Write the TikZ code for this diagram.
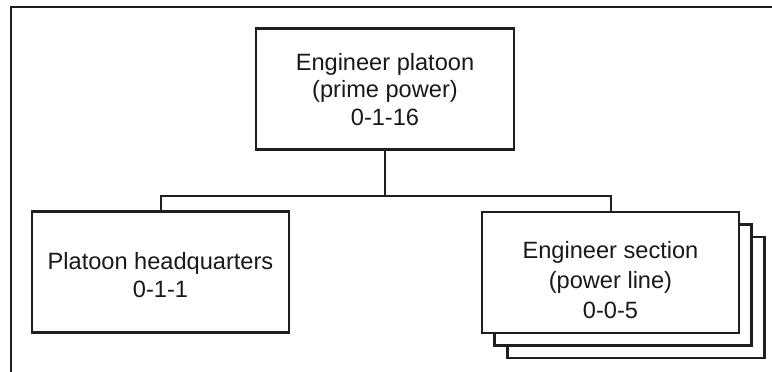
\documentclass[tikz,border=0pt]{standalone}
\usepackage{fontspec}
\setmainfont{Liberation Sans}
\begin{document}
\begin{tikzpicture}[x=1pt,y=-1pt,
  ink/.style={draw=black!88},
  unitbox/.style={ink, line width=2.2pt, fill=white, rectangle, minimum width=257pt, minimum height=121pt, inner sep=0pt},
  boxtext/.style={align=center, inner sep=0pt, text=black!90, font=\fontsize{23.6pt}{27.2pt}\selectfont},
  link/.style={ink, line width=2pt},
  frameline/.style={ink, line width=1.6pt}]
\useasboundingbox (0,0) rectangle (772,372);
\draw[frameline] (10.7,372) -- (10.7,7) -- (772,7);
% top box
\node[unitbox, minimum width=258pt] (top) at (385,89) {};
\node[boxtext] (toptext) at ([yshift=-0.5pt]top.center) {Engineer platoon\\(prime power)\\0-1-16};
% left box
\node[unitbox] (hq) at (160.5,272) {};
\node[boxtext] (hqtext) at ([yshift=-3pt]hq.center) {Platoon headquarters\\0-1-1};
% stacked boxes
\node[unitbox] (sec3) at (636,297.5) {};
\node[unitbox] (sec2) at (623,285) {};
\node[unitbox] (sec) at (610.5,272.5) {};
\node[boxtext, font=\fontsize{23.6pt}{30pt}\selectfont] (sectext) at ([yshift=-7.5pt]sec.center) {Engineer section\\(power line)\\0-0-5};
% connectors
\coordinate (j) at (385,196);
\draw[link] (top.south) -- (j);
\draw[link] (hq.north) |- (j) -| (sec.north);
\end{tikzpicture}
\end{document}
